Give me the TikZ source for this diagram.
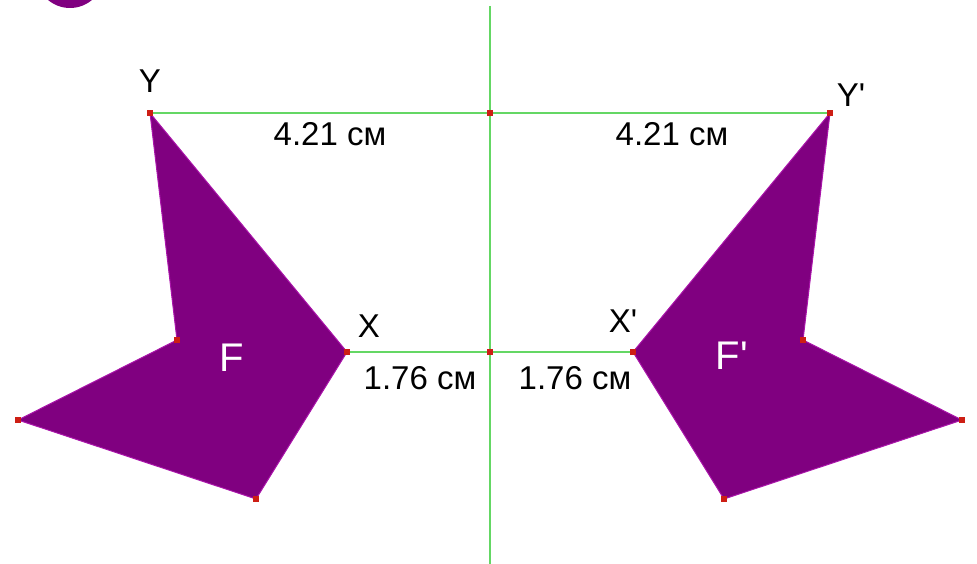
\documentclass[tikz,border=0pt]{standalone}
\usepackage{fontspec}
\setmainfont{Liberation Sans}
\usetikzlibrary{positioning}
\definecolor{figpurple}{RGB}{128,0,128}
\definecolor{figedge}{RGB}{170,20,170}
\definecolor{axisgreen}{RGB}{100,215,100}
\definecolor{ptred}{RGB}{205,30,20}

\tikzset{
  figure/.style={fill=figpurple, draw=figedge, line width=1pt, line join=miter},
  seg/.style={draw=axisgreen, line width=2.6pt},
  lbl/.style={font=\fontsize{33}{38}\selectfont, inner sep=0pt},
  big/.style={font=\fontsize{40}{46}\selectfont, inner sep=0pt, text=white},
  pt/.style={fill=ptred, minimum size=6pt, inner sep=0pt}
}

\begin{document}
\begin{tikzpicture}[x=1pt, y=-1pt]
\useasboundingbox (0,0) rectangle (977,564);
% corner of a shape cut off at the top
\fill[figpurple] (70,-26) circle (34);

% vertices
\coordinate (Y) at (150,113);
\coordinate (X) at (347,352);
\coordinate (B) at (256,499);
\coordinate (L) at (18,420);
\coordinate (I) at (177,340);
\coordinate (Y') at (830,113);
\coordinate (X') at (633,352);
\coordinate (B') at (724,499);
\coordinate (L') at (962,420);
\coordinate (I') at (803,340);
\coordinate (MY) at (490,113);
\coordinate (MX) at (490,352);
\coordinate (top) at (490,6);
\coordinate (bot) at (490,564);

% the two figures
\path[figure] (Y) -- (X) -- (B) -- (L) -- (I) -- cycle;
\path[figure] (Y') -- (X') -- (B') -- (L') -- (I') -- cycle;

% axis and distances
\draw[seg] (top) -- (bot);
\draw[seg] (Y) -- (Y');
\draw[seg] (X) -- (X');

% points
\foreach \p in {Y,X,B,L,I,Y',X',B',L',I',MY,MX}
  \node[pt] at (\p) {};

% labels
\node[lbl] at (150,81) {Y};
\node[lbl] at (851,95) {Y\textquotesingle};
\node[lbl] at (369,326) {X};
\node[lbl] at (623,321) {X\textquotesingle};
\node[lbl] at (330,134) {4.21 см};
\node[lbl] at (672,134) {4.21 см};
\node[lbl] at (420,378) {1.76 см};
\node[lbl] at (575,378) {1.76 см};
\node[big] at (232,358) {F};
\node[big] at (732,356) {F\textquotesingle};
\end{tikzpicture}
\end{document}
